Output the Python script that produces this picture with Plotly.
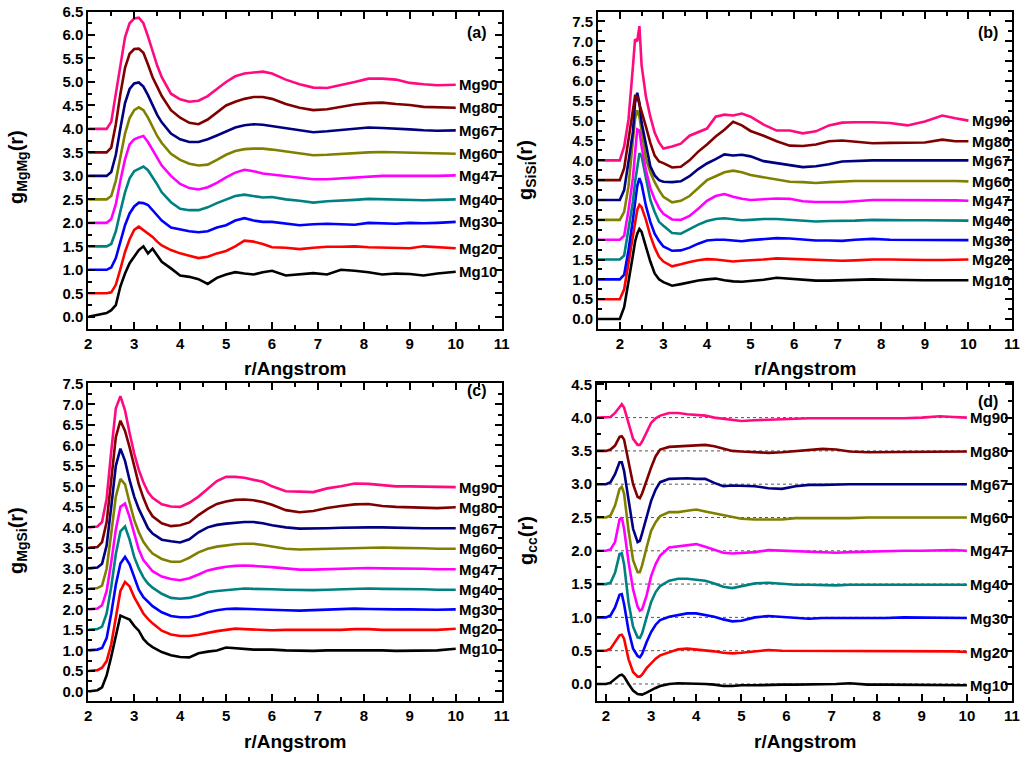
import plotly.graph_objects as go

FONT = "Arial, Liberation Sans, sans-serif"

names = ["Mg10", "Mg20", "Mg30", "Mg40", "Mg47", "Mg60", "Mg67", "Mg80", "Mg90"]
colors = ["#000000", "#FF0000", "#0000FF", "#008080", "#FF00FF",
          "#808000", "#000080", "#800000", "#FF0A80"]

# ---- (a) g_MgMg(r)
r_a = [2.0, 2.4, 2.5, 2.6, 2.7, 2.8, 2.9, 3.0, 3.1, 3.2, 3.3, 3.4, 3.5, 3.6, 3.8, 4.0, 4.2, 4.4, 4.6, 4.8,
       5.0, 5.2, 5.4, 5.6, 5.8, 6.0, 6.3, 6.6, 6.9, 7.2, 7.5, 7.8, 8.1, 8.4, 8.7, 9.0, 9.3, 9.6, 10.0]
a_mg10 = [0.0, 0.08, 0.14, 0.25, 0.65, 0.92, 1.14, 1.28, 1.42, 1.5, 1.35, 1.45, 1.3, 1.17, 1.03, 0.88, 0.85, 0.8, 0.7, 0.83,
          0.9, 0.95, 0.92, 0.9, 0.95, 0.98, 0.88, 0.9, 0.93, 0.9, 1.0, 0.98, 0.95, 0.9, 0.92, 0.91, 0.88, 0.92, 0.96]
a_mg20 = [0.5, 0.5, 0.52, 0.68, 1.02, 1.38, 1.65, 1.85, 1.92, 1.85, 1.78, 1.7, 1.6, 1.52, 1.42, 1.35, 1.3, 1.25, 1.28, 1.35,
          1.4, 1.5, 1.62, 1.6, 1.55, 1.48, 1.47, 1.44, 1.47, 1.49, 1.49, 1.5, 1.48, 1.47, 1.46, 1.46, 1.5, 1.48, 1.46]
a_mg30 = [1.0, 1.0, 1.05, 1.25, 1.6, 1.95, 2.2, 2.35, 2.43, 2.42, 2.38, 2.27, 2.15, 2.05, 1.9, 1.86, 1.82, 1.8, 1.82, 1.9,
          1.95, 2.05, 2.1, 2.05, 2.02, 2.02, 1.99, 1.95, 1.97, 1.98, 1.97, 1.96, 2.0, 1.99, 1.98, 2.0, 1.99, 2.0, 2.02]
a_mg40 = [1.5, 1.5, 1.55, 1.82, 2.25, 2.65, 2.95, 3.1, 3.15, 3.2, 3.12, 2.98, 2.82, 2.65, 2.44, 2.3, 2.27, 2.27, 2.33, 2.42,
          2.5, 2.57, 2.6, 2.57, 2.54, 2.55, 2.5, 2.47, 2.43, 2.46, 2.47, 2.49, 2.51, 2.5, 2.49, 2.49, 2.48, 2.49, 2.5]
a_mg47 = [2.0, 2.0, 2.08, 2.4, 2.9, 3.35, 3.67, 3.78, 3.82, 3.85, 3.72, 3.55, 3.38, 3.22, 3.0, 2.83, 2.74, 2.71, 2.76, 2.85,
          2.97, 3.07, 3.13, 3.1, 3.05, 3.03, 3.0, 2.97, 2.93, 2.93, 2.95, 2.97, 2.99, 3.0, 3.0, 3.0, 2.99, 3.0, 3.01]
a_mg60 = [2.5, 2.5, 2.57, 2.9, 3.4, 3.9, 4.23, 4.4, 4.46, 4.4, 4.24, 4.04, 3.85, 3.7, 3.47, 3.34, 3.26, 3.22, 3.24, 3.34,
          3.45, 3.53, 3.57, 3.58, 3.58, 3.56, 3.52, 3.47, 3.44, 3.45, 3.47, 3.49, 3.5, 3.51, 3.5, 3.49, 3.48, 3.48, 3.47]
a_mg67 = [3.0, 3.0, 3.08, 3.45, 4.02, 4.55, 4.85, 4.97, 4.99, 4.9, 4.72, 4.5, 4.3, 4.14, 3.9, 3.78, 3.72, 3.72, 3.78, 3.86,
          3.95, 4.03, 4.08, 4.1, 4.09, 4.06, 4.02, 3.97, 3.93, 3.95, 3.98, 4.01, 4.03, 4.02, 4.01, 3.99, 3.97, 3.96, 3.97]
a_mg80 = [3.5, 3.5, 3.6, 4.1, 4.75, 5.3, 5.6, 5.7, 5.71, 5.62, 5.37, 5.1, 4.9, 4.7, 4.4, 4.24, 4.13, 4.1, 4.2, 4.35,
          4.5, 4.58, 4.64, 4.68, 4.68, 4.64, 4.53, 4.45, 4.4, 4.42, 4.47, 4.52, 4.55, 4.56, 4.53, 4.51, 4.47, 4.46, 4.45]
a_mg90 = [4.0, 4.0, 4.15, 4.75, 5.4, 5.95, 6.25, 6.35, 6.37, 6.25, 5.97, 5.65, 5.35, 5.1, 4.75, 4.63, 4.58, 4.6, 4.7, 4.85,
          5.0, 5.12, 5.18, 5.2, 5.22, 5.18, 5.05, 4.95, 4.88, 4.87, 4.93, 5.0, 5.07, 5.07, 5.05, 4.98, 4.95, 4.93, 4.94]

# ---- (b) g_SiSi(r)
r_b = [1.5, 2.0, 2.1, 2.2, 2.3, 2.35, 2.4, 2.45, 2.5, 2.6, 2.7, 2.8, 2.9, 3.0, 3.2, 3.4, 3.6, 3.8, 4.0, 4.2,
       4.4, 4.6, 4.8, 5.0, 5.3, 5.6, 5.9, 6.2, 6.5, 6.8, 7.1, 7.4, 7.8, 8.2, 8.6, 9.0, 9.4, 9.7, 10.0]
b_mg10 = [0.0, 0.0, 0.3, 0.9, 1.6, 1.95, 2.15, 2.27, 2.2, 1.82, 1.45, 1.15, 1.0, 0.93, 0.84, 0.88, 0.93, 0.97, 1.0, 1.02,
          0.98, 0.95, 0.94, 0.96, 0.99, 1.04, 1.02, 1.0, 0.97, 0.97, 0.98, 0.99, 1.0, 0.99, 0.98, 0.98, 0.98, 0.98, 0.98]
b_mg20 = [0.5, 0.5, 0.75, 1.4, 2.15, 2.45, 2.75, 2.88, 2.82, 2.5, 2.1, 1.8, 1.57, 1.45, 1.33, 1.38, 1.44, 1.48, 1.51, 1.5,
          1.47, 1.45, 1.47, 1.48, 1.5, 1.53, 1.52, 1.5, 1.49, 1.48, 1.47, 1.48, 1.5, 1.5, 1.49, 1.49, 1.49, 1.5, 1.5]
b_mg30 = [1.0, 1.0, 1.12, 1.74, 2.5, 2.95, 3.35, 3.55, 3.4, 2.85, 2.45, 2.15, 1.97, 1.83, 1.72, 1.73, 1.8, 1.9, 1.98, 2.0,
          2.0, 1.98, 1.96, 1.99, 2.02, 2.04, 2.03, 2.0, 1.98, 1.98, 1.97, 2.0, 2.02, 2.0, 2.0, 2.0, 1.99, 2.0, 1.99]
b_mg40 = [1.5, 1.5, 1.6, 2.25, 2.95, 3.45, 3.85, 4.18, 4.1, 3.5, 3.0, 2.7, 2.45, 2.35, 2.17, 2.15, 2.27, 2.38, 2.47, 2.52,
          2.54, 2.52, 2.49, 2.5, 2.52, 2.52, 2.5, 2.48, 2.46, 2.47, 2.47, 2.48, 2.5, 2.49, 2.49, 2.49, 2.49, 2.48, 2.48]
b_mg47 = [2.0, 2.0, 2.1, 2.75, 3.55, 4.27, 4.78, 4.75, 4.35, 3.75, 3.3, 3.02, 2.8, 2.65, 2.51, 2.5, 2.6, 2.78, 2.98, 3.1,
          3.15, 3.08, 3.03, 3.0, 3.02, 3.04, 3.03, 2.97, 2.95, 2.95, 2.95, 2.97, 3.0, 3.0, 3.0, 3.0, 3.0, 2.99, 2.98]
b_mg60 = [2.5, 2.5, 2.7, 3.35, 4.5, 5.05, 5.26, 5.1, 4.75, 4.05, 3.7, 3.45, 3.25, 3.08, 2.94, 2.98, 3.1, 3.3, 3.5, 3.6,
          3.7, 3.74, 3.7, 3.63, 3.57, 3.52, 3.46, 3.45, 3.43, 3.45, 3.47, 3.48, 3.48, 3.48, 3.49, 3.48, 3.48, 3.48, 3.47]
b_mg67 = [3.0, 3.0, 3.25, 4.02, 4.7, 5.45, 5.7, 5.45, 4.95, 4.4, 3.85, 3.62, 3.5, 3.46, 3.45, 3.47, 3.6, 3.78, 3.92, 4.03,
          4.15, 4.12, 4.14, 4.1, 3.98, 3.93, 3.88, 3.83, 3.85, 3.9, 3.97, 3.99, 4.0, 4.0, 4.0, 4.0, 4.0, 4.0, 4.0]
b_mg80 = [3.5, 3.5, 3.8, 4.52, 5.25, 5.62, 5.6, 5.42, 5.25, 4.85, 4.44, 4.12, 3.97, 3.93, 3.82, 3.84, 4.0, 4.22, 4.4, 4.6,
          4.77, 4.97, 4.88, 4.74, 4.62, 4.48, 4.37, 4.36, 4.4, 4.48, 4.5, 4.47, 4.43, 4.44, 4.44, 4.45, 4.52, 4.48, 4.48]
b_mg90 = [4.0, 4.0, 4.35, 5.03, 6.35, 7.05, 7.0, 7.38, 6.4, 5.6, 5.1, 4.7, 4.45, 4.3, 4.35, 4.42, 4.62, 4.72, 4.8, 5.1,
          5.15, 5.13, 5.18, 5.1, 4.9, 4.75, 4.75, 4.68, 4.73, 4.88, 4.95, 4.96, 4.96, 4.94, 4.88, 4.98, 5.13, 5.06, 5.0]

# ---- (c) g_MgSi(r)
r_c = [2.0, 2.2, 2.3, 2.4, 2.5, 2.6, 2.7, 2.8, 2.9, 3.0, 3.1, 3.2, 3.3, 3.4, 3.6, 3.8, 4.0, 4.2, 4.4, 4.6,
       4.8, 5.0, 5.2, 5.4, 5.6, 5.8, 6.0, 6.3, 6.6, 6.9, 7.2, 7.5, 7.8, 8.1, 8.4, 8.7, 9.0, 9.3, 9.6, 10.0]
c_mg10 = [0.0, 0.03, 0.1, 0.39, 0.85, 1.35, 1.85, 1.8, 1.75, 1.6, 1.48, 1.28, 1.16, 1.08, 0.96, 0.88, 0.84, 0.83, 0.93, 0.97,
          1.0, 1.07, 1.05, 1.03, 1.02, 1.02, 1.02, 1.0, 0.99, 0.99, 1.0, 1.0, 1.01, 1.01, 1.0, 0.99, 0.99, 1.0, 1.0, 1.04]
c_mg20 = [0.5, 0.52, 0.58, 0.74, 1.15, 1.85, 2.45, 2.67, 2.56, 2.3, 2.08, 1.9, 1.77, 1.66, 1.48, 1.39, 1.35, 1.35, 1.38, 1.43,
          1.47, 1.5, 1.53, 1.52, 1.51, 1.5, 1.49, 1.5, 1.5, 1.49, 1.5, 1.5, 1.52, 1.52, 1.5, 1.5, 1.49, 1.49, 1.5, 1.53]
c_mg30 = [1.0, 1.02, 1.06, 1.3, 1.9, 2.6, 3.12, 3.28, 3.1, 2.78, 2.48, 2.3, 2.18, 2.08, 1.93, 1.84, 1.81, 1.81, 1.85, 1.93,
          1.98, 2.01, 2.02, 2.01, 2.0, 2.0, 1.99, 1.98, 1.97, 1.98, 1.99, 2.0, 2.02, 2.01, 2.0, 2.0, 2.0, 1.99, 1.99, 2.0]
c_mg40 = [1.5, 1.52, 1.58, 1.9, 2.55, 3.35, 3.9, 4.02, 3.7, 3.28, 3.0, 2.78, 2.63, 2.53, 2.38, 2.28, 2.26, 2.28, 2.34, 2.42,
          2.45, 2.47, 2.5, 2.51, 2.5, 2.5, 2.49, 2.48, 2.47, 2.47, 2.48, 2.49, 2.5, 2.51, 2.5, 2.5, 2.5, 2.49, 2.48, 2.48]
c_mg47 = [2.0, 2.02, 2.1, 2.45, 3.15, 3.95, 4.5, 4.58, 4.25, 3.85, 3.46, 3.2, 3.05, 2.93, 2.8, 2.74, 2.71, 2.76, 2.85, 2.95,
          3.0, 3.04, 3.06, 3.07, 3.06, 3.05, 3.03, 3.0, 2.97, 2.97, 2.98, 2.99, 3.0, 3.01, 3.0, 3.0, 2.99, 2.99, 2.98, 2.98]
c_mg60 = [2.5, 2.52, 2.58, 2.99, 3.85, 4.75, 5.18, 5.05, 4.6, 4.18, 3.88, 3.65, 3.49, 3.36, 3.23, 3.16, 3.16, 3.26, 3.39, 3.48,
          3.53, 3.56, 3.59, 3.6, 3.6, 3.57, 3.54, 3.48, 3.46, 3.47, 3.47, 3.48, 3.5, 3.51, 3.51, 3.5, 3.5, 3.49, 3.48, 3.48]
c_mg67 = [3.0, 3.02, 3.11, 3.56, 4.5, 5.5, 5.92, 5.62, 5.15, 4.75, 4.45, 4.2, 3.98, 3.85, 3.7, 3.66, 3.63, 3.71, 3.88, 4.0,
          4.06, 4.09, 4.11, 4.13, 4.13, 4.1, 4.05, 4.0, 3.97, 3.97, 3.98, 3.99, 4.0, 4.0, 4.0, 3.99, 3.98, 3.98, 3.98, 3.98]
c_mg80 = [3.5, 3.52, 3.64, 4.13, 5.15, 6.2, 6.6, 6.35, 5.95, 5.5, 5.05, 4.72, 4.45, 4.27, 4.1, 4.03, 4.05, 4.12, 4.3, 4.45,
          4.57, 4.63, 4.67, 4.68, 4.66, 4.62, 4.55, 4.42, 4.37, 4.4, 4.47, 4.52, 4.56, 4.57, 4.52, 4.5, 4.49, 4.48, 4.47, 4.49]
c_mg90 = [4.0, 4.02, 4.13, 4.7, 5.85, 6.9, 7.2, 6.85, 6.3, 5.8, 5.4, 5.1, 4.86, 4.72, 4.56, 4.51, 4.5, 4.6, 4.75, 4.95,
          5.13, 5.23, 5.23, 5.21, 5.16, 5.11, 5.0, 4.88, 4.87, 4.86, 4.95, 5.0, 5.07, 5.06, 5.03, 5.0, 5.0, 4.99, 4.98, 4.98]

# ---- (d) g_cc(r)
r_d = [1.8, 2.0, 2.1, 2.2, 2.3, 2.35, 2.4, 2.5, 2.6, 2.7, 2.75, 2.8, 2.9, 3.0, 3.1, 3.2, 3.4, 3.6, 3.8, 4.0,
       4.2, 4.4, 4.6, 4.8, 5.0, 5.3, 5.6, 5.9, 6.2, 6.5, 6.8, 7.1, 7.4, 7.8, 8.2, 8.6, 9.0, 9.4, 9.7, 10.0]
d_mg10 = [0.0, 0.0, 0.02, 0.08, 0.13, 0.14, 0.11, 0.0, -0.1, -0.15, -0.16, -0.16, -0.13, -0.09, -0.06, -0.03, 0.0, 0.01, 0.01, 0.0,
          0.0, -0.01, -0.03, -0.03, -0.02, -0.02, -0.01, -0.01, -0.01, -0.01, -0.01, 0.0, 0.01, -0.01, -0.01, -0.01, -0.01, -0.01, -0.01, -0.02]
d_mg20 = [0.5, 0.5, 0.53, 0.63, 0.73, 0.74, 0.68, 0.37, 0.18, 0.11, 0.11, 0.14, 0.24, 0.31, 0.38, 0.43, 0.48, 0.52, 0.53, 0.52,
          0.51, 0.49, 0.47, 0.46, 0.47, 0.49, 0.51, 0.5, 0.5, 0.49, 0.49, 0.49, 0.5, 0.5, 0.5, 0.5, 0.5, 0.49, 0.49, 0.48]
d_mg30 = [1.0, 1.0, 1.03, 1.15, 1.34, 1.35, 1.2, 0.8, 0.53, 0.42, 0.4, 0.45, 0.63, 0.78, 0.89, 0.96, 1.01, 1.04, 1.06, 1.06,
          1.04, 1.01, 0.97, 0.94, 0.95, 1.0, 1.02, 1.01, 1.0, 0.98, 0.99, 0.99, 0.99, 0.98, 0.99, 1.0, 1.0, 1.0, 1.0, 0.99]
d_mg40 = [1.5, 1.5, 1.52, 1.67, 1.95, 1.96, 1.8, 1.22, 0.86, 0.7, 0.69, 0.76, 1.0, 1.23, 1.38, 1.47, 1.55, 1.58, 1.58, 1.57,
          1.55, 1.51, 1.46, 1.44, 1.47, 1.51, 1.52, 1.5, 1.49, 1.49, 1.48, 1.48, 1.49, 1.49, 1.49, 1.5, 1.5, 1.5, 1.5, 1.49]
d_mg47 = [2.0, 2.0, 2.02, 2.13, 2.47, 2.5, 2.33, 1.83, 1.42, 1.16, 1.1, 1.12, 1.33, 1.62, 1.8, 1.93, 2.05, 2.07, 2.08, 2.1,
          2.06, 2.01, 1.97, 1.96, 1.97, 1.98, 2.01, 2.0, 1.99, 1.98, 1.97, 1.97, 1.98, 1.99, 1.99, 2.0, 2.0, 2.01, 2.01, 2.0]
d_mg60 = [2.5, 2.5, 2.53, 2.68, 2.93, 2.96, 2.86, 2.3, 1.86, 1.68, 1.68, 1.78, 2.05, 2.3, 2.43, 2.52, 2.58, 2.58, 2.6, 2.62,
          2.59, 2.56, 2.53, 2.51, 2.48, 2.47, 2.47, 2.47, 2.49, 2.49, 2.49, 2.48, 2.49, 2.5, 2.5, 2.5, 2.5, 2.5, 2.5, 2.5]
d_mg67 = [3.0, 3.0, 3.03, 3.15, 3.33, 3.33, 3.2, 2.78, 2.33, 2.13, 2.15, 2.26, 2.5, 2.75, 2.92, 3.03, 3.08, 3.09, 3.09, 3.08,
          3.08, 3.02, 2.97, 2.98, 2.98, 2.97, 2.94, 2.93, 2.97, 2.99, 2.99, 3.0, 3.0, 3.0, 3.0, 3.0, 3.0, 3.0, 3.0, 3.0]
d_mg80 = [3.5, 3.5, 3.52, 3.58, 3.71, 3.72, 3.67, 3.35, 3.0, 2.81, 2.79, 2.86, 3.06, 3.25, 3.42, 3.52, 3.56, 3.57, 3.57, 3.58,
          3.59, 3.57, 3.53, 3.5, 3.49, 3.48, 3.47, 3.48, 3.5, 3.52, 3.53, 3.52, 3.49, 3.48, 3.48, 3.49, 3.49, 3.49, 3.49, 3.49]
d_mg90 = [4.0, 4.0, 4.01, 4.07, 4.15, 4.2, 4.15, 3.92, 3.68, 3.59, 3.59, 3.64, 3.78, 3.92, 3.99, 4.03, 4.07, 4.07, 4.05, 4.04,
          4.03, 4.0, 3.98, 3.97, 3.95, 3.96, 3.97, 3.98, 3.99, 3.99, 3.99, 3.99, 3.99, 3.98, 3.98, 3.99, 4.0, 4.02, 4.01, 4.0]
d_baselines = [0.0, 0.5, 1.0, 1.5, 2.0, 2.5, 3.0, 3.5, 4.0]

panels = [
    dict(r=r_a, curves=[a_mg10, a_mg20, a_mg30, a_mg40, a_mg47, a_mg60, a_mg67, a_mg80, a_mg90],
         xa="x", ya="y", letter="(a)", ytitle="g<sub>MgMg</sub>(r)",
         xdom=[0.0862, 0.4899], ydom=[0.5654, 0.9848], xrange=[2, 11], yrange=[-0.26, 6.5],
         letter_y=0.934, title_x=17, title_y=167, xtitle_y=368),
    dict(r=r_b, curves=[b_mg10, b_mg20, b_mg30, b_mg40, b_mg47, b_mg60, b_mg67, b_mg80, b_mg90],
         xa="x2", ya="y2", letter="(b)", ytitle="g<sub>SiSi</sub>(r)",
         xdom=[0.5840, 0.9883], ydom=[0.5654, 0.9848], xrange=[1.5, 11], yrange=[-0.25, 7.75],
         letter_y=0.934, title_x=527, title_y=170, xtitle_y=368),
    dict(r=r_c, curves=[c_mg10, c_mg20, c_mg30, c_mg40, c_mg47, c_mg60, c_mg67, c_mg80, c_mg90],
         xa="x3", ya="y3", letter="(c)", ytitle="g<sub>MgSi</sub>(r)",
         xdom=[0.0862, 0.4899], ydom=[0.0736, 0.4941], xrange=[2, 11], yrange=[-0.24, 7.52],
         letter_y=0.975, title_x=17, title_y=541, xtitle_y=741),
    dict(r=r_d, curves=[d_mg10, d_mg20, d_mg30, d_mg40, d_mg47, d_mg60, d_mg67, d_mg80, d_mg90],
         xa="x4", ya="y4", letter="(d)", ytitle="g<sub>cc</sub>(r)",
         xdom=[0.5830, 0.9883], ydom=[0.0736, 0.4941], xrange=[1.8, 11], yrange=[-0.26, 4.52],
         letter_y=0.943, title_x=527, title_y=541, xtitle_y=741),
]

fig = go.Figure()
annotations = []
bold = dict(family=FONT, color="black", weight="bold")

for i, p in enumerate(panels):
    # dotted reference lines only in (d)
    if p["letter"] == "(d)":
        for b in d_baselines:
            fig.add_trace(go.Scatter(x=[p["r"][0], p["r"][-1]], y=[b, b], mode="lines",
                                     line=dict(color="#555555", width=1, dash="dot"),
                                     xaxis=p["xa"], yaxis=p["ya"], showlegend=False, hoverinfo="skip"))
    for name, col, vals in zip(names, colors, p["curves"]):
        fig.add_trace(go.Scatter(x=p["r"], y=vals, mode="lines", name=name,
                                 line=dict(color=col, width=2.6),
                                 xaxis=p["xa"], yaxis=p["ya"], showlegend=False))
        annotations.append(dict(x=10.03, y=vals[-1], xref=p["xa"], yref=p["ya"], text=name,
                                showarrow=False, xanchor="left", yanchor="middle",
                                font=dict(size=15, **bold)))
    xd = "x domain" if i == 0 else "x%d domain" % (i + 1)
    yd = "y domain" if i == 0 else "y%d domain" % (i + 1)
    annotations.append(dict(x=0.97, y=p["letter_y"], xref=xd, yref=yd, text=p["letter"],
                            showarrow=False, xanchor="right", yanchor="middle",
                            font=dict(size=16, **bold)))
    annotations.append(dict(x=p["title_x"] / 1024, y=1 - p["title_y"] / 757, xref="paper", yref="paper",
                            text=p["ytitle"], textangle=-90, showarrow=False,
                            xanchor="center", yanchor="middle", font=dict(size=20, **bold)))
    annotations.append(dict(x=sum(p["xdom"]) / 2, y=1 - p["xtitle_y"] / 757, xref="paper", yref="paper",
                            text="r/Angstrom", showarrow=False,
                            xanchor="center", yanchor="middle", font=dict(size=19, **bold)))

axis_common = dict(showline=True, linewidth=2, linecolor="black", mirror="allticks",
                   ticks="inside", ticklen=7, tickwidth=2, tickcolor="black", automargin=False,
                   showgrid=False, zeroline=False, tickfont=dict(size=15, **bold))

layout = dict(width=1024, height=757, autosize=False, margin=dict(l=0, r=0, t=0, b=0, pad=0),
              paper_bgcolor="white", plot_bgcolor="white", annotations=annotations)
for i, p in enumerate(panels):
    xk = "xaxis" if i == 0 else "xaxis%d" % (i + 1)
    yk = "yaxis" if i == 0 else "yaxis%d" % (i + 1)
    layout[xk] = dict(axis_common, domain=p["xdom"], range=p["xrange"], anchor=p["ya"],
                      tickmode="linear", tick0=2, dtick=1,
                      minor=dict(ticks="inside", ticklen=4, tickwidth=1.5, tickcolor="black", dtick=0.5, tick0=2))
    layout[yk] = dict(axis_common, domain=p["ydom"], range=p["yrange"], anchor=p["xa"],
                      tickmode="linear", tick0=0, dtick=0.5, tickformat=".1f",
                      minor=dict(ticks="inside", ticklen=4, tickwidth=1.5, tickcolor="black", dtick=0.25, tick0=0))

fig.update_layout(layout)
fig.write_html("out.html", config={"displayModeBar": False},
               post_script="document.body.style.margin='0';document.body.style.overflow='hidden';")
